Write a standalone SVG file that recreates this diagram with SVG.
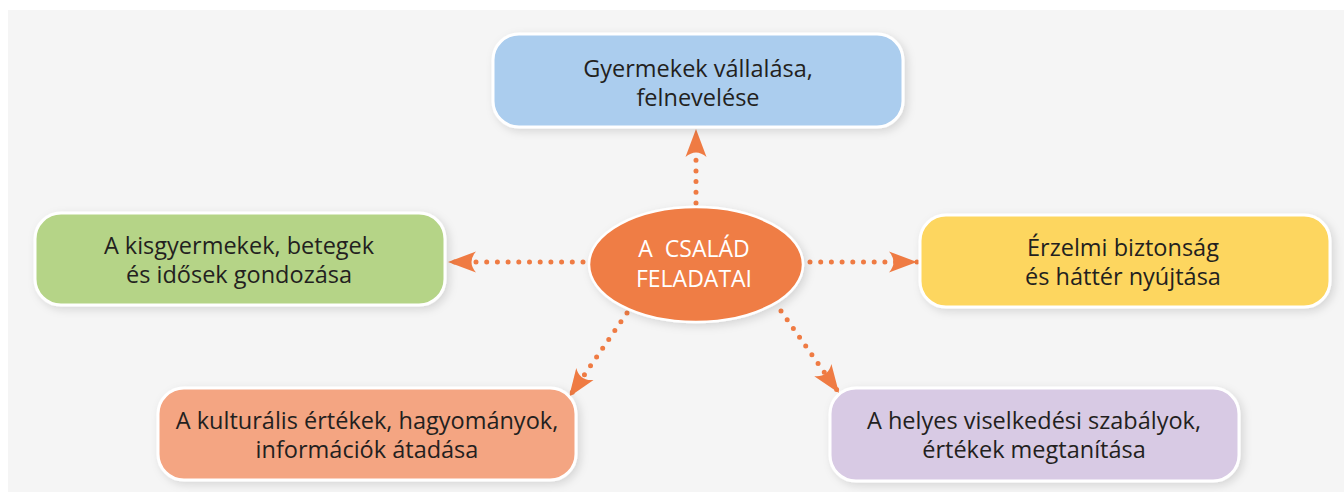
<svg xmlns="http://www.w3.org/2000/svg" width="1344" height="492" viewBox="0 0 1344 492">
<style>
.box{stroke:#ffffff;stroke-width:3;filter:url(#sh)}
.t{font-family:"Open Sans","Noto Sans","Liberation Sans",sans-serif;font-size:23.5px;fill:#231f20;text-anchor:middle}
.ct{font-family:"Open Sans","Noto Sans","Liberation Sans",sans-serif;font-size:23px;fill:#ffffff;text-anchor:middle}
.con{fill:none;stroke:#ef7b43;stroke-width:5;stroke-linecap:round;stroke-dasharray:0 10.7;marker-end:url(#ah)}
</style>
<defs>
<filter id="sh" x="-10%" y="-20%" width="125%" height="150%">
<feDropShadow dx="3" dy="3" stdDeviation="4" flood-color="#000" flood-opacity="0.13"/>
</filter>
<marker id="ah" viewBox="-30 -12 32 24" refX="0" refY="0" markerWidth="32" markerHeight="24" markerUnits="userSpaceOnUse" orient="auto">
<path d="M0,0 L-28,-10.5 Q-19,0 -28,10.5 Z" fill="#ef7b43"/>
</marker>
</defs>
<rect x="0" y="0" width="1344" height="492" fill="#ffffff"/>
<rect x="8" y="10" width="1336" height="482" fill="#f5f5f5"/>
<g id="connectors">
<path class="con" d="M696,203 L696,129"/>
<path class="con" d="M583,262 L448,262"/>
<path class="con" d="M810,262 L917,262"/>
<path class="con" d="M627,313 L569,397"/>
<path class="con" d="M781,311 L839,393"/>
</g>
<g id="n-gyermekek">
<rect class="box" x="493" y="34" width="410" height="93" rx="26" fill="#abcdee"/>
<text class="t" x="698" y="77">Gyermekek vállalása,</text>
<text class="t" x="698" y="106">felnevelése</text>
</g>
<g id="n-gondozas">
<rect class="box" x="35" y="213" width="410" height="92" rx="26" fill="#b5d487"/>
<text class="t" x="239" y="254">A kisgyermekek, betegek</text>
<text class="t" x="239" y="283">és idősek gondozása</text>
</g>
<g id="n-erzelmi">
<rect class="box" x="920" y="215" width="410" height="92" rx="26" fill="#fdd65e"/>
<text class="t" x="1123" y="256">Érzelmi biztonság</text>
<text class="t" x="1123" y="285">és háttér nyújtása</text>
</g>
<g id="n-kulturalis">
<rect class="box" x="158" y="388" width="418" height="92" rx="26" fill="#f4a582"/>
<text class="t" x="367" y="429">A kulturális értékek, hagyományok,</text>
<text class="t" x="367" y="458">információk átadása</text>
</g>
<g id="n-viselkedes">
<rect class="box" x="830" y="388" width="409" height="93" rx="26" fill="#d8cae4"/>
<text class="t" x="1034" y="429">A helyes viselkedési szabályok,</text>
<text class="t" x="1034" y="458">értékek megtanítása</text>
</g>
<g id="n-center">
<ellipse cx="696" cy="264.5" rx="107" ry="57.5" fill="#ef7d45" stroke="#ffffff" stroke-width="2.5" filter="url(#sh)"/>
<text class="ct" x="694" y="257" xml:space="preserve">A  CSALÁD</text>
<text class="ct" x="694" y="287">FELADATAI</text>
</g>
</svg>
